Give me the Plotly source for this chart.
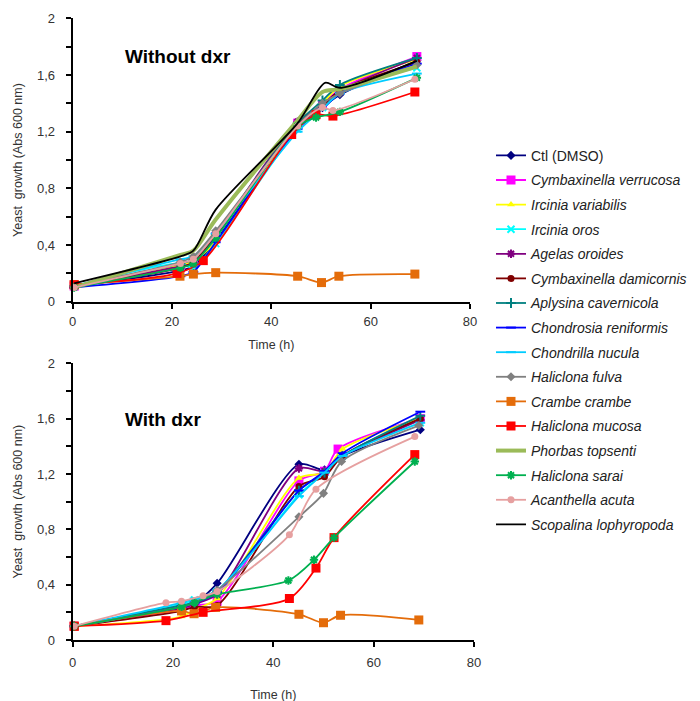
import plotly.graph_objects as go

# ---------------- data ----------------
names = ["Ctl (DMSO)", "Cymbaxinella verrucosa", "Ircinia variabilis", "Ircinia oros",
         "Agelas oroides", "Cymbaxinella damicornis", "Aplysina cavernicola",
         "Chondrosia reniformis", "Chondrilla nucula", "Haliclona fulva",
         "Crambe crambe", "Haliclona mucosa", "Phorbas topsenti", "Haliclona sarai",
         "Acanthella acuta", "Scopalina lophyropoda"]

colors = ["#000080", "#FF00FF", "#FFFF00", "#00FFFF", "#800080", "#800000", "#008080",
          "#0000FF", "#00CCFF", "#808080", "#E46C0A", "#FF0000", "#9BBB59", "#00B050",
          "#E6A0A0", "#000000"]

symbols = ["diamond", "square", "triangle-up", "x-thin-open", "asterisk-open", "circle",
           "cross-thin-open", "line-ew-open", "line-ew-open", "diamond", "square", "square",
           None, "asterisk-open", "circle", None]

italic = [False] + [True] * 15

# Top panel: without dxr
t_std = [0.3, 21.7, 24.3, 28.8, 45.3, 50.3, 53.8, 69.3]
top_t = {
    "Ctl (DMSO)": t_std,
    "Cymbaxinella verrucosa": t_std,
    "Ircinia variabilis": t_std,
    "Ircinia oros": t_std,
    "Agelas oroides": t_std,
    "Cymbaxinella damicornis": t_std,
    "Aplysina cavernicola": t_std,
    "Chondrosia reniformis": t_std,
    "Chondrilla nucula": t_std,
    "Haliclona fulva": t_std,
    "Crambe crambe": [0.3, 21.6, 24.3, 28.8, 45.3, 50.1, 53.6, 68.9],
    "Haliclona mucosa": [0.3, 21.0, 26.3, 44.1, 49.0, 52.4, 68.9],
    "Phorbas topsenti": t_std,
    "Haliclona sarai": [0.3, 21.7, 24.3, 28.8, 45.3, 49.0, 53.8, 69.3],
    "Acanthella acuta": [0.3, 21.7, 24.3, 28.8, 45.3, 50.3, 52.4, 68.9],
    "Scopalina lophyropoda": [0.3, 21.7, 24.3, 28.8, 45.3, 50.8, 53.8, 69.3],
}
top_v = {
    "Ctl (DMSO)": [0.11, 0.22, 0.25, 0.43, 1.23, 1.37, 1.46, 1.70],
    "Cymbaxinella verrucosa": [0.11, 0.24, 0.28, 0.46, 1.26, 1.39, 1.50, 1.73],
    "Ircinia variabilis": [0.10, 0.26, 0.29, 0.42, 1.25, 1.40, 1.52, 1.71],
    "Ircinia oros": [0.11, 0.27, 0.24, 0.41, 1.22, 1.37, 1.49, 1.65],
    "Agelas oroides": [0.11, 0.25, 0.27, 0.47, 1.27, 1.39, 1.49, 1.72],
    "Cymbaxinella damicornis": [0.11, 0.24, 0.28, 0.46, 1.25, 1.38, 1.49, 1.69],
    "Aplysina cavernicola": [0.11, 0.27, 0.30, 0.48, 1.26, 1.42, 1.53, 1.72],
    "Chondrosia reniformis": [0.10, 0.18, 0.21, 0.42, 1.22, 1.36, 1.47, 1.68],
    "Chondrilla nucula": [0.11, 0.30, 0.32, 0.48, 1.20, 1.36, 1.47, 1.61],
    "Haliclona fulva": [0.11, 0.28, 0.32, 0.50, 1.24, 1.40, 1.47, 1.67],
    "Crambe crambe": [0.12, 0.18, 0.195, 0.205, 0.18, 0.135, 0.18, 0.195],
    "Haliclona mucosa": [0.12, 0.20, 0.29, 1.18, 1.32, 1.31, 1.48],
    "Phorbas topsenti": [0.10, 0.33, 0.36, 0.58, 1.28, 1.48, 1.50, 1.66],
    "Haliclona sarai": [0.10, 0.24, 0.27, 0.45, 1.24, 1.30, 1.34, 1.58],
    "Acanthella acuta": [0.10, 0.27, 0.30, 0.48, 1.24, 1.37, 1.35, 1.57],
    "Scopalina lophyropoda": [0.13, 0.32, 0.36, 0.65, 1.26, 1.545, 1.51, 1.70],
}

# Bottom panel: with dxr (Phorbas and Scopalina are not visible there)
t_std2 = [0.3, 21.7, 24.3, 28.8, 45.1, 50.2, 53.8, 69.3]
bot_t = {
    "Ctl (DMSO)": t_std2,
    "Cymbaxinella verrucosa": [0.3, 21.7, 24.3, 28.8, 45.1, 50.2, 52.9, 69.3],
    "Ircinia variabilis": t_std2,
    "Ircinia oros": t_std2,
    "Agelas oroides": t_std2,
    "Cymbaxinella damicornis": t_std2,
    "Aplysina cavernicola": t_std2,
    "Chondrosia reniformis": t_std2,
    "Chondrilla nucula": t_std2,
    "Haliclona fulva": [0.3, 21.7, 24.3, 28.8, 45.1, 50.0, 53.6, 69.0],
    "Crambe crambe": [0.3, 21.7, 24.2, 28.5, 45.1, 50.0, 53.4, 69.0],
    "Haliclona mucosa": [0.3, 18.6, 26.0, 43.2, 48.5, 52.1, 68.2],
    "Haliclona sarai": [0.3, 21.7, 24.3, 28.8, 43.0, 48.1, 52.1, 68.2],
    "Acanthella acuta": [0.3, 18.6, 21.7, 26.0, 28.8, 43.2, 48.5, 68.2],
}
bot_v = {
    "Ctl (DMSO)": [0.10, 0.25, 0.27, 0.41, 1.27, 1.23, 1.33, 1.52],
    "Cymbaxinella verrucosa": [0.10, 0.22, 0.25, 0.28, 1.15, 1.22, 1.38, 1.60],
    "Ircinia variabilis": [0.10, 0.17, 0.22, 0.30, 1.17, 1.21, 1.38, 1.60],
    "Ircinia oros": [0.10, 0.26, 0.29, 0.35, 1.05, 1.21, 1.33, 1.57],
    "Agelas oroides": [0.10, 0.23, 0.26, 0.33, 1.24, 1.22, 1.33, 1.59],
    "Cymbaxinella damicornis": [0.10, 0.21, 0.24, 0.25, 1.11, 1.18, 1.33, 1.60],
    "Aplysina cavernicola": [0.10, 0.25, 0.27, 0.35, 1.08, 1.21, 1.33, 1.62],
    "Chondrosia reniformis": [0.10, 0.24, 0.27, 0.34, 1.08, 1.22, 1.35, 1.65],
    "Chondrilla nucula": [0.10, 0.27, 0.30, 0.36, 1.04, 1.21, 1.33, 1.57],
    "Haliclona fulva": [0.10, 0.24, 0.27, 0.36, 0.89, 1.06, 1.29, 1.55],
    "Crambe crambe": [0.10, 0.21, 0.19, 0.236, 0.186, 0.125, 0.179, 0.145],
    "Haliclona mucosa": [0.10, 0.14, 0.20, 0.30, 0.52, 0.74, 1.34],
    "Haliclona sarai": [0.10, 0.24, 0.27, 0.33, 0.43, 0.58, 0.74, 1.29],
    "Acanthella acuta": [0.10, 0.27, 0.28, 0.32, 0.35, 0.76, 1.09, 1.47],
}

y_tickvals = [0, 0.2, 0.4, 0.6, 0.8, 1.0, 1.2, 1.4, 1.6, 1.8, 2.0]
y_ticktext = ["0", "", "0,4", "", "0,8", "", "1,2", "", "1,6", "", "2"]
x_tickvals = [0, 20, 40, 60, 80]

FONT = "Liberation Sans, Arial, sans-serif"

fig = go.Figure()

def add_traces(tdict, vdict, xa, ya, show):
    for i, n in enumerate(names):
        if n not in tdict:
            continue
        sym = symbols[i]
        lw = 4.0 if n == "Phorbas topsenti" else 1.8
        msize = 9 if n in ("Crambe crambe", "Haliclona mucosa", "Cymbaxinella verrucosa") else 7
        mode = "lines" if sym is None else "lines+markers"
        label = ("<i>%s</i>" % n) if italic[i] else n
        marker = dict(color=colors[i], size=msize)
        if sym is not None:
            marker["symbol"] = sym
            if sym.endswith("-open"):
                marker["line"] = dict(color=colors[i], width=2)
        fig.add_trace(go.Scatter(
            x=tdict[n], y=vdict[n], name=label, mode=mode,
            line=dict(color=colors[i], width=lw, shape="spline", smoothing=0.8),
            marker=marker, xaxis=xa, yaxis=ya, showlegend=show,
            legendgroup=n, cliponaxis=False,
        ))

add_traces(top_t, top_v, "x", "y", True)
add_traces(bot_t, bot_v, "x2", "y2", False)

axis_common = dict(
    showline=True, linecolor="black", linewidth=2, ticks="outside", ticklen=5,
    tickwidth=1.5, tickcolor="black", showgrid=False, zeroline=False, automargin=False,
    tickfont=dict(family=FONT, size=13, color="#333333"),
)
title_font = dict(family=FONT, size=12.5, color="#333333")

fig.update_layout(
    width=700, height=701,
    margin=dict(l=0, r=0, t=0, b=0, autoexpand=False),
    paper_bgcolor="white", plot_bgcolor="white",
    font=dict(family=FONT),
    xaxis=dict(domain=[0.0924, 0.660], anchor="y", range=[0, 80], tickvals=x_tickvals,
               ticklabelstandoff=2,
               title=dict(text="Time (h)", font=title_font, standoff=12), **axis_common),
    yaxis=dict(domain=[0.581, 0.9853], anchor="x", range=[0, 2], tickvals=y_tickvals,
               ticktext=y_ticktext, ticklabelstandoff=8,
               title=dict(text="Yeast  growth (Abs 600 nm)", font=title_font, standoff=12),
               **axis_common),
    xaxis2=dict(domain=[0.0924, 0.6657], anchor="y2", range=[0, 80], tickvals=x_tickvals,
                ticklabelstandoff=4,
                title=dict(text="Time (h)", font=title_font, standoff=22), **axis_common),
    yaxis2=dict(domain=[0.0984, 0.4932], anchor="x2", range=[0, 2], tickvals=y_tickvals,
                ticktext=y_ticktext, ticklabelstandoff=8,
                title=dict(text="Yeast  growth (Abs 600 nm)", font=title_font, standoff=12),
                **axis_common),
    legend=dict(x=0.69, y=0.812, xanchor="left", yanchor="top",
                font=dict(family=FONT, size=14, color="#222222"),
                tracegroupgap=3.4, itemwidth=30, bgcolor="rgba(0,0,0,0)"),
    annotations=[
        dict(text="<b>Without dxr</b>", x=115 / 700, y=1 - 49 / 701, xref="paper",
             yref="paper", xanchor="left", yanchor="middle", showarrow=False,
             font=dict(family=FONT, size=19, color="black")),
        dict(text="<b>With dxr</b>", x=115 / 700, y=1 - 411 / 701, xref="paper",
             yref="paper", xanchor="left", yanchor="middle", showarrow=False,
             font=dict(family=FONT, size=19, color="black")),
    ],
)

fig.write_html("out.html")
